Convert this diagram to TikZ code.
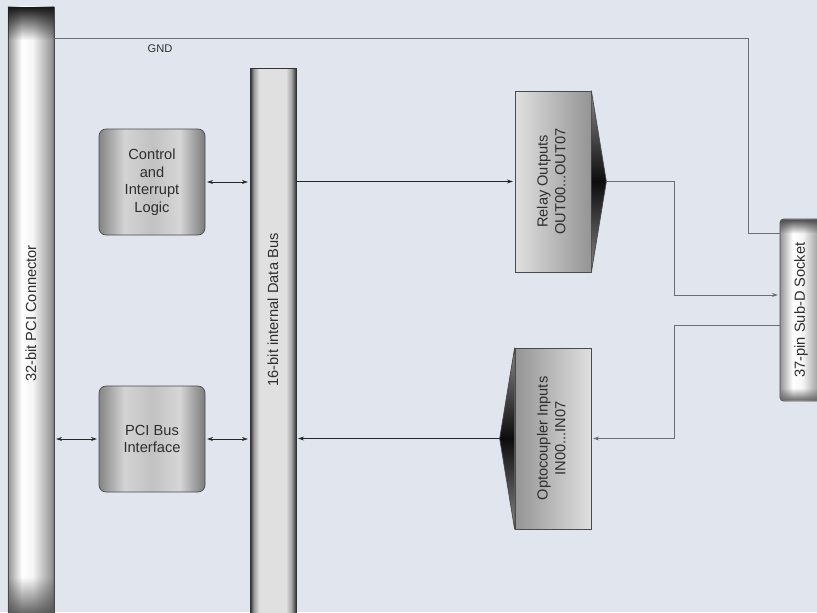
\documentclass[tikz,border=0pt]{standalone}
\usepackage{fontspec}
\setmainfont{Liberation Sans}
\usepackage{graphicx}
\usetikzlibrary{calc, arrows.meta, fadings}
\definecolor{bgblue}{HTML}{E1E5EE}
\definecolor{wiregray}{HTML}{6C6C74}
\definecolor{txtdark}{HTML}{2E2E2E}
\definecolor{rimgray}{HTML}{4A4A4A}
\pgfdeclarehorizontalshading{barshade}{100bp}{color(0bp)=(black!42); color(25bp)=(black!42); color(40bp)=(white); color(52bp)=(white!96!black); color(72bp)=(black!40); color(75bp)=(black!55); color(100bp)=(black!55)}
\pgfdeclarehorizontalshading{busshade}{100bp}{color(0bp)=(black!85); color(25bp)=(black!85); color(29bp)=(black!40); color(35bp)=(black!12); color(64bp)=(black!12); color(70bp)=(black!35); color(75bp)=(black!80); color(100bp)=(black!80)}
\pgfdeclarehorizontalshading{blockshade}{100bp}{color(0bp)=(black!48); color(25bp)=(black!48); color(37bp)=(black!17); color(50bp)=(black!24); color(63bp)=(black!16); color(75bp)=(black!52); color(100bp)=(black!52)}
\tikzset{
  connbar/.style={rectangle, draw=rimgray, line width=0.6pt, shade, shading=barshade,
                  minimum width=1.38cm, inner sep=0pt, text=txtdark},
  busbar/.style={rectangle, draw=black!80, line width=0.6pt, shade, shading=busshade,
                 minimum width=1.38cm, inner sep=0pt, text=txtdark},
  block/.style={rectangle, rounded corners=6pt, draw=rimgray, line width=0.6pt, shade, shading=blockshade,
                minimum width=3.18cm, minimum height=3.18cm, align=center, text=txtdark},
  iobox/.style 2 args={rectangle, draw=rimgray, line width=0.6pt, left color=#1, right color=#2,
                minimum width=2.28cm, minimum height=5.43cm, inner sep=0pt, text=txtdark},
  tipfill/.style={top color=black!48, bottom color=black!48, middle color=black!95, draw=rimgray, line width=0.6pt},
  biarrow/.style={{Stealth[length=1.8mm, width=1.2mm]}-{Stealth[length=1.8mm, width=1.2mm]},
                  line width=0.5pt, draw=black!85, shorten <=1.5pt, shorten >=1.5pt},
  sig/.style={-{Stealth[length=1.8mm, width=1.2mm]}, line width=0.5pt, draw=black!85},
  wire/.style={line width=0.7pt, draw=wiregray},
}

\begin{document}
\begin{tikzpicture}[font=\fontsize{12.5}{15}\selectfont]
  \useasboundingbox (0,0) rectangle (24.51,-18.36);
  \fill[bgblue] (0,0) rectangle (24.51,-18.36);
  \clip (0,0) rectangle (24.51,-18.36);

  % --- connector, bus and socket bars
  \node[connbar, minimum height=18.39cm] (pcicon) at (0.93,-9.405) {\rotatebox{90}{32-bit PCI Connector}};
  \node[busbar, minimum height=16.56cm] (bus) at (8.19,-10.32) {\rotatebox{90}{\hspace*{2.04cm}16-bit internal Data Bus}};
  \node[connbar, rounded corners=3pt, minimum width=1.26cm, minimum height=5.46cm] (socket) at (24.03,-9.30) {\rotatebox{90}{37-pin Sub-D Socket}};
  % darker ends of the bars
  \fill[black!90, path fading=south] ($(pcicon.north west)+(0.02,-0.02)$) rectangle ($(pcicon.north east)+(-0.02,-1.0)$);
  \fill[black!70, path fading=north] ($(pcicon.south west)+(0.02,1.3)$) rectangle ($(pcicon.south east)+(-0.02,0.02)$);
  \fill[black!70, path fading=south, rounded corners=3pt] ($(socket.north west)+(0.02,-0.02)$) rectangle ($(socket.north east)+(-0.02,-0.45)$);
  \fill[black!60, path fading=north, rounded corners=3pt] ($(socket.south west)+(0.02,0.4)$) rectangle ($(socket.south east)+(-0.02,0.02)$);

  % --- logic blocks
  \node[block] (ctrl) at (4.56,-5.46) {Control\\and\\Interrupt\\Logic};
  \node[block] (pciif) at (4.56,-13.17) {PCI Bus\\Interface};

  % --- relay outputs and optocoupler inputs
  \node[iobox={black!12}{black!42}] (relay) at (16.59,-5.445) {};
  \node[iobox={black!42}{black!12}] (opto) at (16.59,-13.155) {};
  \node[text=txtdark] (relaytxt) at (relay) {\rotatebox{90}{\begin{tabular}{@{}c@{}}Relay Outputs\\OUT00...OUT07\end{tabular}}};
  \node[text=txtdark] (optotxt) at (opto) {\rotatebox{90}{\begin{tabular}{@{}c@{}}Optocoupler Inputs\\IN00...IN07\end{tabular}}};
  \coordinate (relaytip) at ($(relay.east)+(0.45,0)$);
  \coordinate (optotip) at ($(opto.west)+(-0.45,0)$);
  \shade[tipfill] (relay.north east) -- (relaytip) -- (relay.south east) -- cycle;
  \shade[tipfill] (opto.north west) -- (optotip) -- (opto.south west) -- cycle;

  % --- bus connections
  \draw[biarrow] (pciif.west -| pcicon.east) -- (pciif.west);
  \draw[biarrow] (pciif.east) -- (pciif.east -| bus.west);
  \draw[biarrow] (ctrl.east) -- (ctrl.east -| bus.west);
  \draw[sig, shorten >=1.5pt] (relay.west -| bus.east) -- (relay.west);
  \draw[sig, shorten >=1.5pt] (optotip) -- (optotip -| bus.east);

  % --- socket wiring
  \coordinate (rail) at (20.22,0);
  \coordinate (gndbend) at (22.44,-1.14);
  \coordinate (sockgnd) at ($(socket.north west)+(0,-0.45)$);
  \coordinate (sockin) at ($(socket.west)+(0,0.45)$);
  \coordinate (sockout) at ($(socket.west)+(0,-0.45)$);
  \draw[wire] (gndbend -| pcicon.east) -- (gndbend) |- (sockgnd);
  \node[font=\fontsize{9.5}{11}\selectfont, text=txtdark] (gnd) at (4.8,-1.47) {GND};
  \draw[wire, -{Stealth[length=1.8mm, width=1.2mm]}, shorten >=1.5pt] (relaytip) -- (relaytip -| rail) |- (sockin);
  \draw[wire, -{Stealth[length=1.8mm, width=1.2mm]}, shorten >=1.5pt] (sockout) -- (sockout -| rail) |- (opto.east);
\end{tikzpicture}
\end{document}
